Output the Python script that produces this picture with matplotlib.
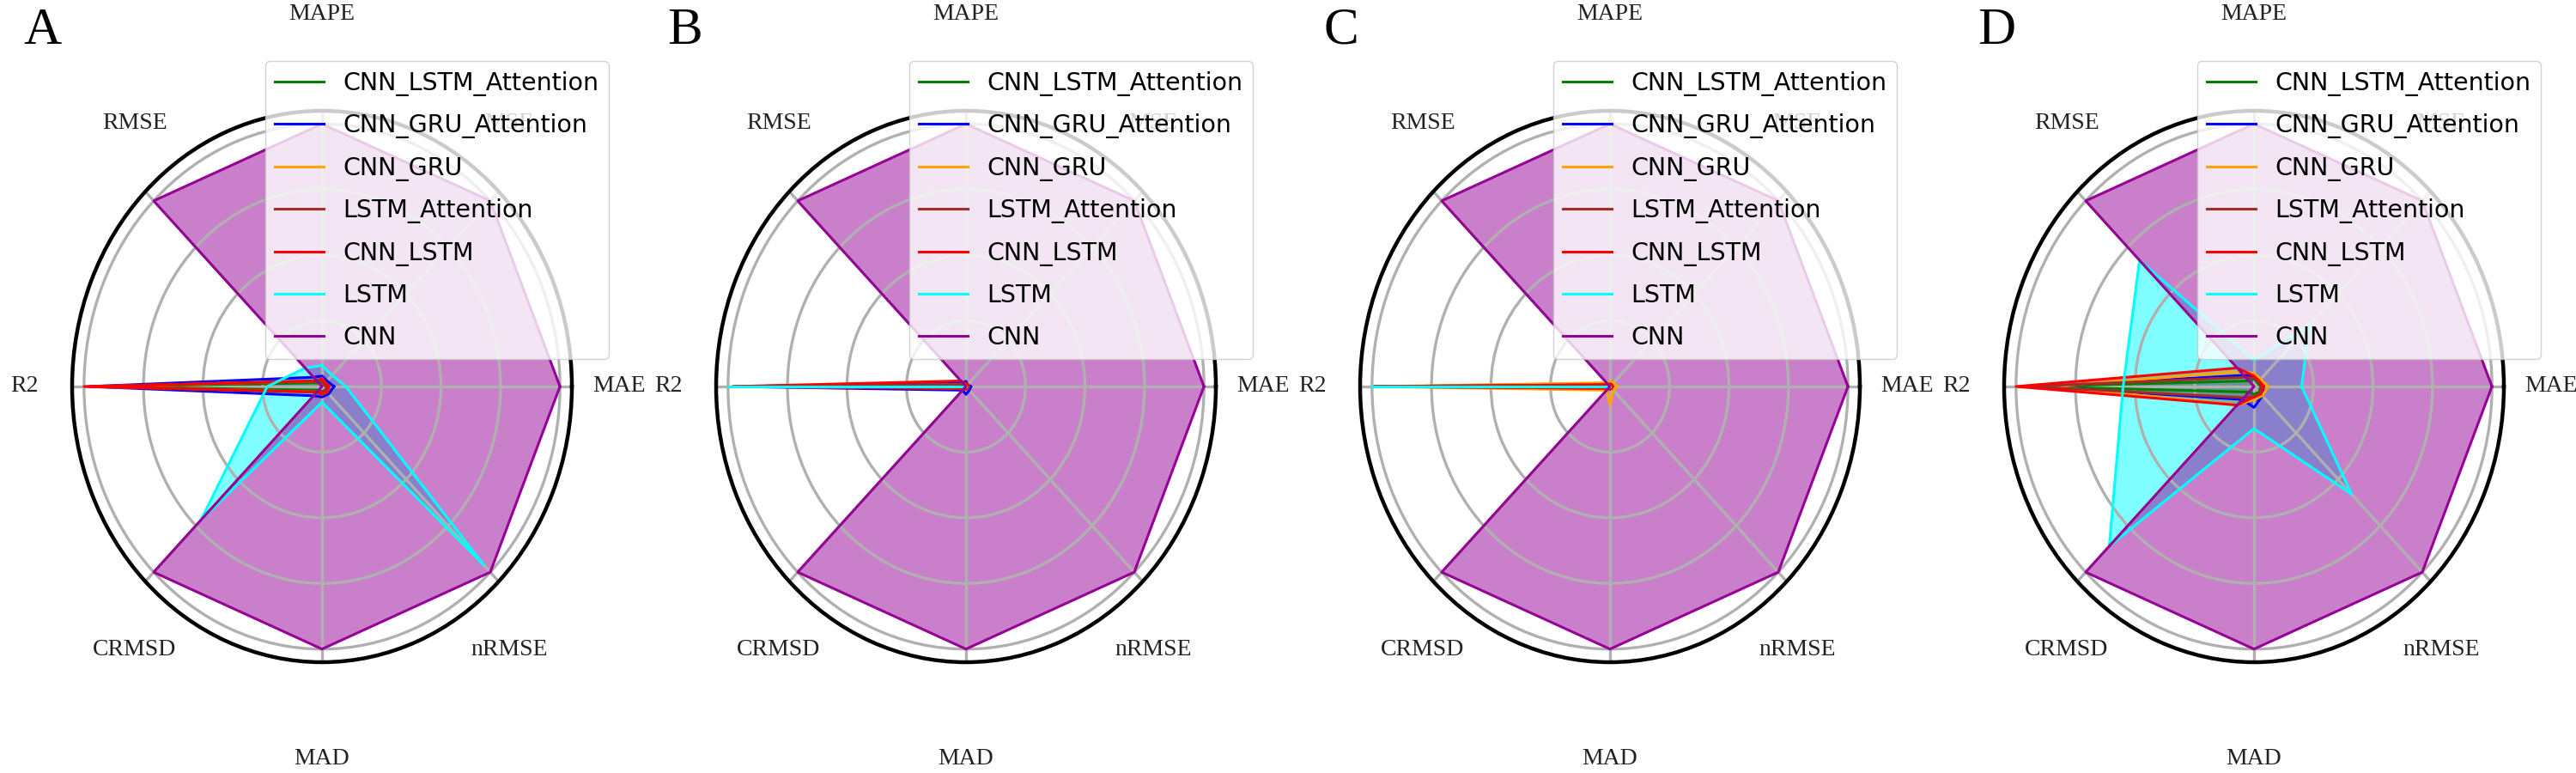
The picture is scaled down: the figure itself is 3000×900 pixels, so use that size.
import numpy as np
import matplotlib.pyplot as plt

# metrics in the order they go round the radar (counter-clockwise from the right)
metrics = ['MAE', 'MSE', 'MAPE', 'RMSE', 'R2', 'CRMSD', 'MAD', 'nRMSE']
models = ['CNN_LSTM_Attention', 'CNN_GRU_Attention', 'CNN_GRU',
          'LSTM_Attention', 'CNN_LSTM', 'LSTM', 'CNN']
colors = ['green', 'blue', 'orange', 'brown', 'red', 'cyan', '#960096']
panel_letters = ['A', 'B', 'C', 'D']

# normalised scores, one list per model (same order as metrics)
panel_a = [
    [0.02, 0.01, 0.02, 0.02, 0.96, 0.02, 0.02, 0.02],
    [0.05, 0.03, 0.04, 0.05, 0.98, 0.05, 0.04, 0.04],
    [0.03, 0.02, 0.03, 0.03, 0.95, 0.03, 0.03, 0.03],
    [0.02, 0.01, 0.02, 0.03, 0.95, 0.03, 0.02, 0.02],
    [0.03, 0.02, 0.03, 0.03, 1.00, 0.03, 0.03, 0.03],
    [0.10, 0.06, 0.08, 0.10, 0.23, 0.72, 0.06, 0.96],
    [1.00, 1.00, 1.00, 1.00, 0.00, 1.00, 1.00, 1.00],
]
panel_b = [
    [0.01, 0.01, 0.01, 0.01, 0.98, 0.01, 0.01, 0.01],
    [0.02, 0.01, 0.02, 0.02, 0.97, 0.02, 0.03, 0.02],
    [0.01, 0.01, 0.01, 0.01, 0.98, 0.01, 0.01, 0.01],
    [0.01, 0.01, 0.01, 0.01, 0.97, 0.01, 0.01, 0.01],
    [0.01, 0.01, 0.01, 0.03, 0.98, 0.01, 0.01, 0.01],
    [0.00, 0.00, 0.00, 0.00, 1.00, 0.00, 0.00, 0.00],
    [1.00, 1.00, 1.00, 1.00, 0.00, 1.00, 1.00, 1.00],
]
panel_c = [
    [0.01, 0.01, 0.01, 0.01, 0.99, 0.01, 0.01, 0.01],
    [0.01, 0.01, 0.01, 0.01, 0.99, 0.01, 0.01, 0.01],
    [0.03, 0.02, 0.02, 0.02, 0.98, 0.02, 0.07, 0.02],
    [0.01, 0.01, 0.01, 0.01, 0.99, 0.01, 0.01, 0.01],
    [0.01, 0.01, 0.01, 0.01, 0.99, 0.01, 0.01, 0.01],
    [0.00, 0.00, 0.00, 0.00, 1.00, 0.00, 0.00, 0.00],
    [1.00, 1.00, 1.00, 1.00, 0.00, 1.00, 1.00, 1.00],
]
panel_d = [
    [0.03, 0.02, 0.03, 0.03, 0.93, 0.03, 0.03, 0.03],
    [0.04, 0.03, 0.04, 0.06, 0.90, 0.07, 0.08, 0.05],
    [0.06, 0.04, 0.05, 0.08, 0.85, 0.10, 0.05, 0.05],
    [0.03, 0.03, 0.03, 0.05, 0.95, 0.06, 0.04, 0.04],
    [0.04, 0.03, 0.04, 0.10, 1.00, 0.10, 0.04, 0.04],
    [0.20, 0.33, 0.10, 0.68, 0.55, 0.86, 0.16, 0.58],
    [1.00, 1.00, 1.00, 1.00, 0.00, 1.00, 1.00, 1.00],
]
panels = [panel_a, panel_b, panel_c, panel_d]

angles = np.linspace(0, 2 * np.pi, len(metrics), endpoint=False)
closed = np.concatenate([angles, angles[:1]])

fig = plt.figure(figsize=(30, 9), dpi=100)

letter_x = [50, 798, 1562, 2325]  # pixel positions of the panel letters

for i, data in enumerate(panels):
    cx = 375 + 750 * i
    ax = fig.add_axes([(cx - 291) / 3000, 129 / 900, 582 / 3000, 642 / 900],
                      projection='polar')
    ax.set_aspect('auto')

    for name, col, vals in zip(models, colors, data):
        v = np.concatenate([vals, vals[:1]])
        ax.plot(closed, v, color=col, linewidth=2.2, label=name)
        ax.fill(closed, v, color=col, alpha=0.5)

    ax.set_ylim(0, 1.05)
    ax.set_yticks([0.25, 0.5, 0.75, 1.0])
    ax.set_yticklabels([])
    ax.set_xticks(angles)
    ax.set_xticklabels([])
    ax.grid(color='#b0b0b0', linewidth=2.4)
    ax.spines['polar'].set_linewidth(3.2)
    ax.spines['polar'].set_color('black')

    # metric names sit well outside the circle
    for ang, name in zip(angles, metrics):
        kx = 1.06 + 0.13 * abs(np.cos(2 * ang))
        ky = 1.35
        ax.text(0.5 + 0.5 * kx * np.cos(ang), 0.5 + 0.5 * ky * np.sin(ang), name,
                transform=ax.transAxes, ha='center', va='center',
                fontsize=20, family='Liberation Serif', color='#222222')

    ax.legend(loc='upper right', bbox_to_anchor=(1.074, 1.09), borderaxespad=0,
              fontsize=20.5, labelspacing=0.72, framealpha=0.8,
              edgecolor='#c8c8c8')

    fig.text(letter_x[i] / 3000, 1 - 36 / 900, panel_letters[i], ha='center',
             va='center', fontsize=44, family='Liberation Serif')

fig.savefig('out.png', dpi=100)
